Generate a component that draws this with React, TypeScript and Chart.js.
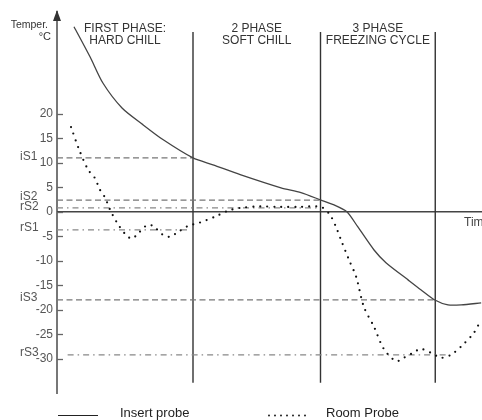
import React, { useEffect, useRef } from "react";
import { Chart, registerables } from "chart.js";
Chart.register(...registerables);

// Y axis tick labels (°C)
const yTicks = [20, 15, 10, 5, 0, -5, -10, -15, -20, -25, -30];

// Insert probe (time units 0..100, temperature °C)
const insertT = [4.0, 7.8, 10.8, 15.3, 20.2, 25.0, 32.0, 36.7, 43.1, 52.7, 57.4, 62.1, 65.2, 68.2, 70.8, 74.6, 77.4, 82.6, 85.6, 88.9, 92.0, 95.1, 99.8];
const insertV = [37.8, 31.6, 26.3, 21.2, 17.8, 14.7, 11.0, 9.6, 7.6, 4.9, 3.9, 2.4, 1.4, 0.0, -3.1, -7.8, -10.4, -13.9, -15.9, -18.0, -19.0, -19.0, -18.6];

// Room probe
const roomT = [3.3, 5.2, 7.3, 8.9, 10.1, 11.3, 12.5, 14.1, 16.2, 17.6, 18.8, 21.2, 22.6, 24.9, 26.6, 28.2, 30.8, 33.6, 37.2, 40.2, 43.1, 47.8, 52.5, 57.2, 62.1, 64.2, 65.6, 66.8, 68.7, 70.4, 72.2, 74.6, 76.9, 79.8, 81.6, 83.8, 85.6, 88.0, 90.4, 92.7, 95.1, 98.1, 99.8];
const roomV = [17.3, 12.7, 8.6, 6.9, 4.5, 2.9, 0.4, -2.2, -4.7, -5.5, -4.7, -2.7, -2.9, -4.7, -5.1, -4.3, -2.9, -2.2, -1.0, 0.2, 0.8, 1.1, 1.0, 1.0, 1.0, -0.6, -3.0, -5.7, -9.8, -13.3, -19.4, -23.5, -28.0, -30.5, -29.8, -28.8, -28.0, -28.8, -29.8, -29.2, -27.5, -24.7, -22.0];

// Phases
const phaseBounds = [32, 62, 89];
const phaseTitleLine1 = ["FIRST PHASE:", "2 PHASE", "3 PHASE"];
const phaseTitleLine2 = ["HARD CHILL", "SOFT CHILL", "FREEZING CYCLE"];
const phaseLineTop = 36.7;
const phaseLineBottom = -34.9;

// Set points
const thresholdNames = ["iS1", "iS2", "rS2", "rS1", "iS3", "rS3"];
const thresholdValues = [11, 2.4, 0.8, -3.7, -18, -29.2];
const thresholdStart = [0, 0, 0, 0, 0, 2.5];
const thresholdEnd = [32, 62, 62, 31, 89, 92];
const thresholdProbe = ["insert", "insert", "room", "room", "insert", "room"];

const legendNames = ["Insert probe", "Room Probe"];

const X_MIN = 0;
const X_MAX = 100;
const Y_MIN = -37;
const Y_MAX = 40.8;

const FONT = "'Liberation Sans', Arial, sans-serif";

export default function App() {
  const ref = useRef<HTMLCanvasElement | null>(null);

  useEffect(() => {
    const canvas = ref.current;
    if (!canvas) return;

    const datasets: any[] = [];

    datasets.push({
      label: legendNames[0],
      data: insertT.map((t, i) => ({ x: t, y: insertV[i] })),
      borderColor: "#444",
      borderWidth: 1.3,
      pointRadius: 0,
      tension: 0.25,
      fill: false,
    });
    datasets.push({
      label: legendNames[1],
      data: roomT.map((t, i) => ({ x: t, y: roomV[i] })),
      borderColor: "#111",
      borderWidth: 2.2,
      borderDash: [0, 7],
      borderCapStyle: "round",
      pointRadius: 0,
      tension: 0.3,
      fill: false,
    });

    thresholdNames.forEach((name, i) => {
      const isInsert = thresholdProbe[i] === "insert";
      datasets.push({
        label: name,
        data: [
          { x: thresholdStart[i], y: thresholdValues[i] },
          { x: thresholdEnd[i], y: thresholdValues[i] },
        ],
        borderColor: isInsert ? "#777" : "#888",
        borderWidth: 1.2,
        borderDash: isInsert ? [6, 3.5] : [6, 4, 1.5, 4],
        pointRadius: 0,
        fill: false,
      });
    });

    phaseBounds.forEach((b) => {
      datasets.push({
        label: "phase",
        data: [
          { x: b, y: phaseLineTop },
          { x: b, y: phaseLineBottom },
        ],
        borderColor: "#333",
        borderWidth: 1.4,
        pointRadius: 0,
        fill: false,
      });
    });

    datasets.push({
      label: "zero",
      data: [
        { x: X_MIN, y: 0 },
        { x: X_MAX, y: 0 },
      ],
      borderColor: "#444",
      borderWidth: 1.5,
      pointRadius: 0,
      fill: false,
    });

    const decor = {
      id: "decor",
      afterDraw(chart: any) {
        const ctx = chart.ctx as CanvasRenderingContext2D;
        const xs = chart.scales.x;
        const ys = chart.scales.y;
        const ax = chart.chartArea.left;
        ctx.save();

        // tick marks inside
        ctx.strokeStyle = "#666";
        ctx.lineWidth = 1.3;
        yTicks.forEach((v) => {
          const py = Math.round(ys.getPixelForValue(v)) + 0.5;
          ctx.beginPath();
          ctx.moveTo(ax, py);
          ctx.lineTo(ax + 6, py);
          ctx.stroke();
        });

        // arrow
        ctx.fillStyle = "#333";
        ctx.beginPath();
        ctx.moveTo(ax, chart.chartArea.top - 2);
        ctx.lineTo(ax - 4, chart.chartArea.top + 9);
        ctx.lineTo(ax + 4, chart.chartArea.top + 9);
        ctx.closePath();
        ctx.fill();

        // axis title
        ctx.fillStyle = "#333";
        ctx.font = `10.5px ${FONT}`;
        ctx.textAlign = "right";
        ctx.textBaseline = "middle";
        ctx.fillText("Temper.", 48, 25);
        ctx.font = `11px ${FONT}`;
        ctx.fillText("°C", 51, 37);

        // threshold labels
        ctx.fillStyle = "#555";
        ctx.font = `12px ${FONT}`;
        ctx.textAlign = "left";
        const offsets = [-1, -3, -1, -2, -2, -2];
        thresholdNames.forEach((n, i) => {
          const py = ys.getPixelForValue(thresholdValues[i]) + offsets[i];
          ctx.fillText(n, 20, py);
        });

        // phase titles
        ctx.fillStyle = "#333";
        ctx.font = `12px ${FONT}`;
        ctx.textAlign = "center";
        const bounds = [X_MIN, ...phaseBounds];
        phaseTitleLine1.forEach((t, i) => {
          const cx = (xs.getPixelForValue(bounds[i]) + xs.getPixelForValue(bounds[i + 1])) / 2;
          ctx.fillText(t, cx, 29);
          ctx.fillText(phaseTitleLine2[i], cx, 41);
        });

        // time label
        ctx.fillStyle = "#444";
        ctx.textAlign = "left";
        ctx.font = `12px ${FONT}`;
        ctx.fillText("Time", 464, ys.getPixelForValue(0) + 11);

        // legend
        const ly = 415.5;
        ctx.strokeStyle = "#222";
        ctx.lineWidth = 1.2;
        ctx.beginPath();
        ctx.moveTo(58, ly);
        ctx.lineTo(98, ly);
        ctx.stroke();
        ctx.lineWidth = 2;
        ctx.lineCap = "round";
        ctx.setLineDash([0, 6]);
        ctx.beginPath();
        ctx.moveTo(269, ly);
        ctx.lineTo(306, ly);
        ctx.stroke();
        ctx.setLineDash([]);
        ctx.fillStyle = "#222";
        ctx.font = `13px ${FONT}`;
        ctx.textAlign = "left";
        ctx.textBaseline = "middle";
        ctx.fillText(legendNames[0], 120, 413);
        ctx.fillText(legendNames[1], 326, 413);

        ctx.restore();
      },
    };

    const chart = new Chart(canvas, {
      type: "line",
      data: { datasets },
      options: {
        animation: false,
        responsive: false,
        maintainAspectRatio: false,
        layout: { padding: { top: 12, bottom: 27, left: 0, right: 0 } },
        plugins: {
          legend: { display: false },
          tooltip: { enabled: false },
          title: { display: false },
        },
        scales: {
          x: {
            type: "linear",
            display: false,
            min: X_MIN,
            max: X_MAX,
          },
          y: {
            type: "linear",
            min: Y_MIN,
            max: Y_MAX,
            afterBuildTicks: (scale: any) => {
              scale.ticks = yTicks.map((v) => ({ value: v }));
            },
            afterFit: (scale: any) => {
              scale.width = 57;
            },
            grid: { drawOnChartArea: false, drawTicks: false },
            border: { display: true, color: "#777", width: 2 },
            ticks: {
              padding: 4,
              color: "#555",
              font: { family: FONT, size: 12 },
              callback: (v: any) => String(v),
            },
          },
        },
      },
      plugins: [decor],
    });

    return () => chart.destroy();
  }, []);

  return (
    <div style={{ position: "absolute", left: 0, top: 0, width: 482, height: 420, background: "#fff" }}>
      <canvas ref={ref} width={482} height={420} style={{ display: "block" }} />
    </div>
  );
}
